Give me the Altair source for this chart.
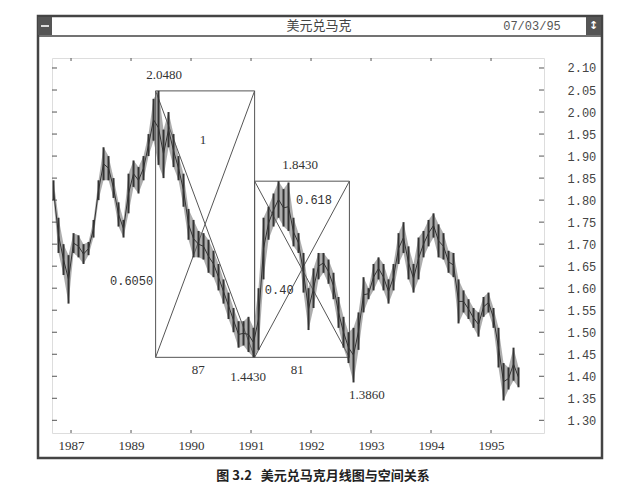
import altair as alt
import pandas as pd

# USD/DEM monthly bars, Sep 1987 .. Jun 1995
lows = [1.80, 1.68, 1.63, 1.565, 1.68, 1.67, 1.655, 1.675, 1.715, 1.80,
        1.845, 1.845, 1.805, 1.74, 1.715, 1.77, 1.83, 1.815, 1.845, 1.90,
        1.935, 1.88, 1.85, 1.92, 1.875, 1.845, 1.785, 1.71, 1.67, 1.67,
        1.665, 1.635, 1.625, 1.595, 1.565, 1.53, 1.50, 1.465, 1.47, 1.455,
        1.443, 1.46, 1.62, 1.71, 1.74, 1.76, 1.74, 1.73, 1.695, 1.68,
        1.59, 1.505, 1.555, 1.62, 1.635, 1.61, 1.575, 1.51, 1.465, 1.43,
        1.386, 1.46, 1.545, 1.575, 1.595, 1.62, 1.595, 1.565, 1.595, 1.655,
        1.68, 1.62, 1.59, 1.62, 1.67, 1.695, 1.715, 1.67, 1.665, 1.635,
        1.625, 1.52, 1.545, 1.53, 1.51, 1.49, 1.535, 1.545, 1.51, 1.42,
        1.345, 1.37, 1.39, 1.375]
highs = [1.845, 1.76, 1.70, 1.675, 1.725, 1.72, 1.70, 1.705, 1.755, 1.845,
         1.92, 1.90, 1.85, 1.795, 1.755, 1.86, 1.89, 1.875, 1.90, 1.95,
         2.03, 2.048, 1.96, 2.00, 1.95, 1.90, 1.86, 1.78, 1.755, 1.73,
         1.725, 1.71, 1.685, 1.655, 1.62, 1.59, 1.555, 1.525, 1.525, 1.535,
         1.51, 1.60, 1.76, 1.785, 1.815, 1.843, 1.825, 1.84, 1.76, 1.725,
         1.68, 1.60, 1.645, 1.68, 1.68, 1.665, 1.635, 1.58, 1.535, 1.50,
         1.51, 1.545, 1.625, 1.60, 1.655, 1.67, 1.655, 1.62, 1.655, 1.725,
         1.75, 1.695, 1.655, 1.715, 1.73, 1.755, 1.77, 1.745, 1.725, 1.685,
         1.68, 1.62, 1.595, 1.575, 1.555, 1.545, 1.58, 1.59, 1.555, 1.51,
         1.43, 1.42, 1.465, 1.42]

months = pd.date_range("1987-09-01", periods=len(lows), freq="MS")
bars = pd.DataFrame({
    "t": months.year + (months.month - 0.5) / 12,
    "low": lows,
    "high": highs,
})

# space boxes: peak -> low -> rebound -> low
box_t0 = [1989.41, 1991.06]
box_t1 = [1991.06, 1992.64]
box_top = [2.048, 1.843]
box_bot = [1.443, 1.443]
boxes = pd.DataFrame({"t0": box_t0, "t1": box_t1, "top": box_top, "bot": box_bot})

# annotations
serif_text = ["2.0480", "1", "87", "1.4430", "1.8430", "81", "1.3860"]
serif_t = [1989.55, 1990.2, 1990.12, 1990.95, 1991.82, 1991.77, 1992.93]
serif_v = [2.083, 1.936, 1.414, 1.398, 1.879, 1.414, 1.357]
mono_text = ["0.618", "0.40"]
mono_t = [1992.05, 1991.47]
mono_v = [1.80, 1.595]
ratio_text = ["0.6050"]
ratio_t = [1989.37]
ratio_v = [1.616]

year_ticks = [1988, 1989, 1990, 1991, 1992, 1993, 1994, 1995]
year_labels = ["1987", "1989", "1990", "1991", "1992", "1993", "1994", "1995"]
price_ticks = [1.30, 1.35, 1.40, 1.45, 1.50, 1.55, 1.60, 1.65, 1.70, 1.75,
               1.80, 1.85, 1.90, 1.95, 2.00, 2.05, 2.10]

W, H = 492, 375
xs = alt.Scale(domain=[1987.683, 1995.883], nice=False, zero=False)
ys = alt.Scale(domain=[1.2712, 2.1227], nice=False, zero=False)
INK = "#333333"
LINE = "#555555"

label_map = "{" + ",".join(f"'{y}':'{l}'" for y, l in zip(year_ticks, year_labels)) + "}"
x_axis = alt.Axis(values=year_ticks, labelExpr=f"{label_map}[datum.value]", title=None,
                  tickSize=0, domain=False, grid=False, labelOverlap=False,
                  labelFont="Liberation Serif", labelFontSize=13,
                  labelColor="#333", labelPadding=6)
y_axis = alt.Axis(orient="right", values=price_ticks, format=".2f", title=None,
                  tickSize=0, domain=False, grid=False, labelOverlap=False,
                  labelFont="Liberation Mono", labelFontSize=12,
                  labelColor="#444", labelPadding=23)


def X(field):
    return alt.X(field, type="quantitative", scale=xs, axis=x_axis)


def Y(field):
    return alt.Y(field, type="quantitative", scale=ys, axis=y_axis)


price = (
    alt.Chart(bars)
    .mark_rule(color=INK, strokeWidth=2)
    .encode(x=X("t"), y=Y("low"), y2="high:Q")
)

# band between lows and highs, to give the dense look of the print
band = (
    alt.Chart(bars)
    .mark_area(color="#6a6a6a", opacity=0.55)
    .encode(x=X("t"), y=Y("low"), y2="high:Q")
)

mid = (
    alt.Chart(bars)
    .transform_calculate(m="(datum.low + datum.high) / 2")
    .mark_line(color=INK, strokeWidth=1)
    .encode(x=X("t"), y=Y("m"))
)

box_rect = (
    alt.Chart(boxes)
    .mark_rect(filled=False, stroke=LINE, strokeWidth=1)
    .encode(x=X("t0"), x2="t1:Q", y=Y("top"), y2="bot:Q")
)
diag_down = (
    alt.Chart(boxes)
    .mark_rule(color=LINE, strokeWidth=1)
    .encode(x=X("t0"), x2="t1:Q", y=Y("top"), y2="bot:Q")
)
diag_up = (
    alt.Chart(boxes)
    .mark_rule(color=LINE, strokeWidth=1)
    .encode(x=X("t0"), x2="t1:Q", y=Y("bot"), y2="top:Q")
)

serif_labels = (
    alt.Chart(pd.DataFrame({"s": serif_text, "t": serif_t, "v": serif_v}))
    .mark_text(font="Liberation Serif", fontSize=13, color="#333")
    .encode(x=X("t"), y=Y("v"), text="s:N")
)
mono_labels = (
    alt.Chart(pd.DataFrame({"s": mono_text, "t": mono_t, "v": mono_v}))
    .mark_text(font="Liberation Mono", fontSize=12, color="#333")
    .encode(x=X("t"), y=Y("v"), text="s:N")
)
ratio_labels = (
    alt.Chart(pd.DataFrame({"s": ratio_text, "t": ratio_t, "v": ratio_v}))
    .mark_text(font="Liberation Mono", fontSize=12, color="#333", align="right")
    .encode(x=X("t"), y=Y("v"), text="s:N")
)

# inward ticks on all four sides
yt = pd.DataFrame({"v": price_ticks})
xt = pd.DataFrame({"t": year_ticks})
left_ticks = alt.Chart(yt).mark_rule(color=LINE).encode(
    y=Y("v"), x=alt.value(0), x2=alt.value(5))
right_ticks = alt.Chart(yt).mark_rule(color=LINE).encode(
    y=Y("v"), x=alt.value(W - 5), x2=alt.value(W))
top_ticks = alt.Chart(xt).mark_rule(color=LINE).encode(
    x=X("t"), y=alt.value(0), y2=alt.value(3))
bottom_ticks = alt.Chart(xt).mark_rule(color=LINE).encode(
    x=X("t"), y=alt.value(H - 3), y2=alt.value(H))

# window frame around the plot
one = alt.Data(values=[{}])
frame = alt.Chart(one).mark_rect(filled=False, stroke="#444", strokeWidth=2.5).encode(
    x=alt.value(-14), x2=alt.value(550), y=alt.value(-42), y2=alt.value(400))
title_line = alt.Chart(one).mark_rule(color="#444", strokeWidth=1.5).encode(
    x=alt.value(-14), x2=alt.value(550), y=alt.value(-22))
left_box = alt.Chart(one).mark_rect(color="#555").encode(
    x=alt.value(-14), x2=alt.value(0), y=alt.value(-41), y2=alt.value(-23))
left_bar = alt.Chart(one).mark_rect(color="#ddd").encode(
    x=alt.value(-11), x2=alt.value(-3), y=alt.value(-33), y2=alt.value(-31))
right_box = alt.Chart(one).mark_rect(color="#555").encode(
    x=alt.value(534), x2=alt.value(549), y=alt.value(-41), y2=alt.value(-23))
right_arrow = alt.Chart(one).mark_text(color="white", fontSize=11, fontWeight="bold",
                                       font="DejaVu Sans").encode(
    x=alt.value(541.5), y=alt.value(-32), text=alt.value("↕"))
title = alt.Chart(one).mark_text(font="Noto Sans CJK SC", fontSize=13, color="#444").encode(
    x=alt.value(267), y=alt.value(-32), text=alt.value("美元兑马克"))
date = alt.Chart(one).mark_text(font="Liberation Mono", fontSize=12, color="#555").encode(
    x=alt.value(480), y=alt.value(-32), text=alt.value("07/03/95"))
caption = alt.Chart(one).mark_text(font="Noto Sans CJK SC", fontSize=13, fontWeight="bold",
                                   color="#222").encode(
    x=alt.value(271), y=alt.value(418),
    text=alt.value("图 3.2\u00a0\u00a0\u00a0美元兑马克月线图与空间关系"))

chart = alt.layer(
    frame, title_line, left_box, left_bar, right_box, right_arrow, title, date, caption,
    left_ticks, right_ticks, top_ticks, bottom_ticks,
    box_rect, diag_down, diag_up,
    band, mid, price,
    serif_labels, mono_labels, ratio_labels,
).properties(
    width=W, height=H,
    autosize=alt.AutoSizeParams(type="none"),
    padding={"left": 44, "top": 50, "right": 70, "bottom": 50},
).configure_view(
    stroke=LINE, strokeWidth=1
).configure(background="white")

chart.save("out.html", embed_options={"renderer": "svg", "actions": False})
